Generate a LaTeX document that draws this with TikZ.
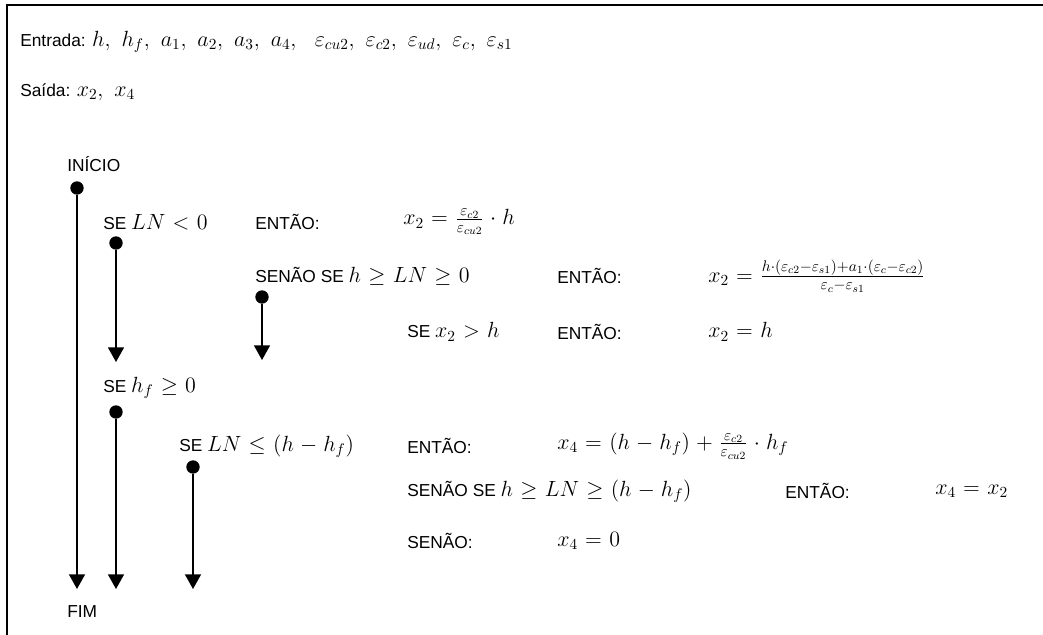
\RequirePackage{fix-cm}
\documentclass[tikz,border=0pt]{standalone}
\usepackage{amsmath}
\usepackage{fontspec}
\setmainfont{Liberation Sans}
\usetikzlibrary{arrows.meta}

% math is set a little larger than the sans text
\newcommand{\mth}[1]{{\fontsize{16.5}{19}\selectfont
  \thickmuskip=6mu plus 4mu \medmuskip=5mu plus 2mu$#1$}}

\tikzset{
  txt/.style={anchor=west, inner sep=0pt, font=\fontsize{13}{15}\selectfont},
  dot/.style={circle, fill=black, inner sep=0pt, minimum size=10pt},
  flow/.style={line width=1.2pt, -{Triangle[length=11pt,width=12pt]}},
}

\begin{document}
\begin{tikzpicture}[x=0.75pt, y=-0.75pt]
  \useasboundingbox (0,0) rectangle (1043,635);

  % Frame (top and left edges)
  \draw[line width=1.5pt] (1043,5) -- (7,5) -- (7,635);

  % Header
  \node[txt] (entrada) at (20,42) {Entrada: \mth{h,\;h_f,\;a_1,\;a_2,\;a_3,\;a_4,\;\;\varepsilon_{cu2},\;\varepsilon_{c2},\;\varepsilon_{ud},\;\varepsilon_c,\;\varepsilon_{s1}}};
  \node[txt] (saida) at (20,92) {Saída: \mth{x_2,\;x_4}};

  % Start / end
  \node[txt] (inicio) at (67,164) {INÍCIO};
  \node[txt] (fim) at (67,612) {FIM};

  % First block: x2
  \node[txt] (se1) at (103,222) {SE \mth{LN<0}};
  \node[txt] (ent1) at (255,222) {ENTÃO:};
  \node[txt] (eq1) at (403,222) {\mth{x_2=\tfrac{\varepsilon_{c2}}{\varepsilon_{cu2}}\cdot h}};

  \node[txt] (senao1) at (255,276) {SENÃO SE \mth{h\geq LN\geq 0}};
  \node[txt] (ent2) at (557,276) {ENTÃO:};
  \node[txt] (eq2) at (708,276) {\mth{x_2=\tfrac{h\cdot(\varepsilon_{c2}-\varepsilon_{s1})+a_1\cdot(\varepsilon_c-\varepsilon_{c2})}{\varepsilon_c-\varepsilon_{s1}}}};

  \node[txt] (se2) at (407,332) {SE \mth{x_2>h}};
  \node[txt] (ent3) at (557,332) {ENTÃO:};
  \node[txt] (eq3) at (708,332) {\mth{x_2=h}};

  % Second block: x4
  \node[txt] (se3) at (103,388) {SE \mth{h_f\geq 0}};

  \node[txt] (se4) at (179,446) {SE \mth{LN\leq\left(h-h_f\right)}};
  \node[txt] (ent4) at (407,446) {ENTÃO:};
  \node[txt] (eq4) at (557,446) {\mth{x_4=\left(h-h_f\right)+\tfrac{\varepsilon_{c2}}{\varepsilon_{cu2}}\cdot h_f}};

  \node[txt] (senao2) at (407,491) {SENÃO SE \mth{h\geq LN\geq\left(h-h_f\right)}};
  \node[txt] (ent5) at (785,491) {ENTÃO:};
  \node[txt] (eq5) at (935,491) {\mth{x_4=x_2}};

  \node[txt] (senao3) at (407,541) {SENÃO:};
  \node[txt] (eq6) at (557,541) {\mth{x_4=0}};

  % Flow dots and ends
  \node[dot] (d1) at (77,188) {};
  \node[dot] (d2) at (116,243) {};
  \node[dot] (d3) at (262,297) {};
  \node[dot] (d4) at (116,412) {};
  \node[dot] (d5) at (193,467) {};

  \coordinate (e1) at (77,589);
  \coordinate (e2) at (116,362);
  \coordinate (e3) at (262,360);
  \coordinate (e4) at (116,589);
  \coordinate (e5) at (193,589);

  \draw[flow] (d1) -- (e1);
  \draw[flow] (d2) -- (e2);
  \draw[flow] (d3) -- (e3);
  \draw[flow] (d4) -- (e4);
  \draw[flow] (d5) -- (e5);
\end{tikzpicture}
\end{document}
